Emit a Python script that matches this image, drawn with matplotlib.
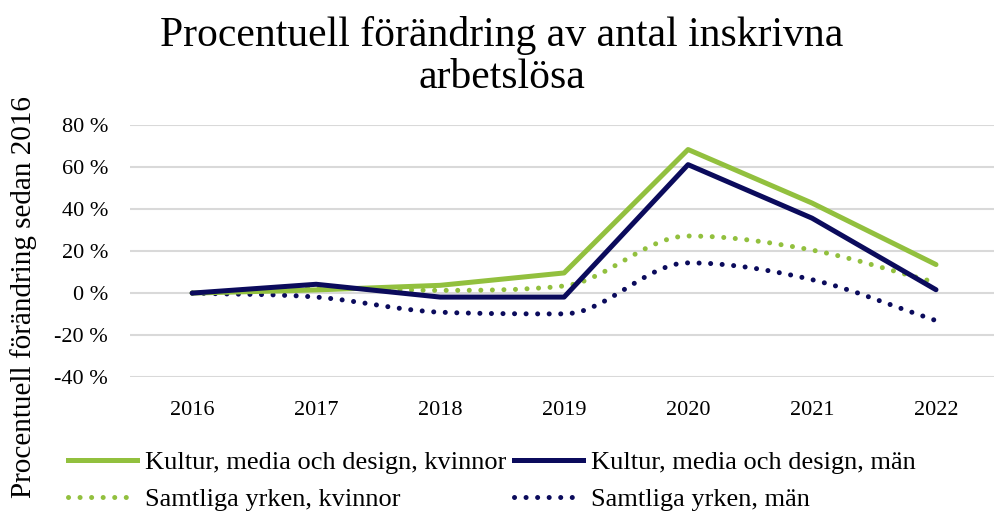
import numpy as np
import matplotlib
matplotlib.use("Agg")
import matplotlib.pyplot as plt
from matplotlib.path import Path
from matplotlib.patches import PathPatch
from matplotlib.lines import Line2D
from matplotlib.ticker import FuncFormatter

years = ["2016", "2017", "2018", "2019", "2020", "2021", "2022"]
kultur_kvinnor = [0, 1.5, 3.7, 9.6, 68.4, 42.9, 13.6]
kultur_man = [0, 4.2, -1.9, -1.9, 61.2, 35.7, 1.6]
samtliga_kvinnor = [0, 2.4, 1.3, 3.4, 27.2, 20.5, 5.0]
samtliga_man = [0, -1.9, -9.1, -9.9, 14.4, 6.4, -13.1]

green = "#92C03E"
navy = "#0B0B5C"

plt.rcParams['font.family'] = ['Liberation Serif', 'DejaVu Serif']


def smooth_path(xs, ys):
    # smoothed line drawn as cubic bezier segments through the data points
    xs = np.asarray(xs, float)
    ys = np.asarray(ys, float)
    n = len(ys)
    d = np.diff(ys) / np.diff(xs)
    m = np.zeros(n)
    m[0], m[-1] = d[0], d[-1]
    for i in range(1, n - 1):
        if d[i - 1] * d[i] <= 0:
            m[i] = 0.0
        else:
            m[i] = (d[i - 1] + d[i]) / 2
            lim = 3 * min(abs(d[i - 1]), abs(d[i]))
            m[i] = np.sign(m[i]) * min(abs(m[i]), lim)
    verts = [(xs[0], ys[0])]
    codes = [Path.MOVETO]
    for i in range(n - 1):
        h = xs[i + 1] - xs[i]
        verts += [(xs[i] + h / 3, ys[i] + m[i] * h / 3),
                  (xs[i + 1] - h / 3, ys[i + 1] - m[i + 1] * h / 3),
                  (xs[i + 1], ys[i + 1])]
        codes += [Path.CURVE4] * 3
    return Path(verts, codes)


fig = plt.figure(figsize=(9.94, 5.13), dpi=100)
ax = fig.add_axes([0.131, 0.265, 0.873, 0.491])

x = np.arange(len(years))
lw = 3.6
dots = (0, (0.01, 2.3))
ax.plot(x, kultur_kvinnor, color=green, lw=lw, solid_capstyle='round', zorder=3)
ax.plot(x, kultur_man, color=navy, lw=lw, solid_capstyle='round', zorder=4)

for vals, col in [(samtliga_kvinnor, green), (samtliga_man, navy)]:
    patch = PathPatch(smooth_path(x, vals), facecolor='none', edgecolor=col,
                      lw=lw, linestyle=dots, capstyle='round', zorder=2)
    ax.add_patch(patch)

ax.set_xlim(-0.5, len(years) - 0.5)
ax.set_ylim(-40, 80)
ax.set_yticks(np.arange(-40, 81, 20))
ax.yaxis.set_major_formatter(FuncFormatter(lambda v, p: f"{int(v)} %"))
ax.set_xticks(x)
ax.set_xticklabels(years)
ax.tick_params(axis='both', length=0, labelsize=16)
ax.tick_params(axis='x', pad=17)
ax.tick_params(axis='y', pad=16)
ax.grid(axis='y', color='#d9d9d9', lw=1.5)
ax.set_axisbelow(True)
for s in ax.spines.values():
    s.set_visible(False)

fig.text(0.024, 0.42, "Procentuell förändring sedan 2016", rotation=90,
         ha='center', va='center', fontsize=21)
fig.text(0.505, 0.968, "Procentuell förändring av antal inskrivna\narbetslösa",
         ha='center', va='top', fontsize=30, linespacing=1.1)

handles = [
    Line2D([], [], color=green, lw=lw),
    Line2D([], [], color=green, lw=lw, linestyle=dots, dash_capstyle='round'),
    Line2D([], [], color=navy, lw=lw),
    Line2D([], [], color=navy, lw=lw, linestyle=dots, dash_capstyle='round'),
]
labels = ["Kultur, media och design, kvinnor", "Samtliga yrken, kvinnor",
          "Kultur, media och design, män", "Samtliga yrken, män"]
fig.legend(handles, labels, ncol=2, loc='lower left', bbox_to_anchor=(0.045, -0.042),
           frameon=False, fontsize=19, handlelength=2.6, handletextpad=0.3,
           columnspacing=0.3, labelspacing=0.5)

fig.savefig("out.png", dpi=100)
